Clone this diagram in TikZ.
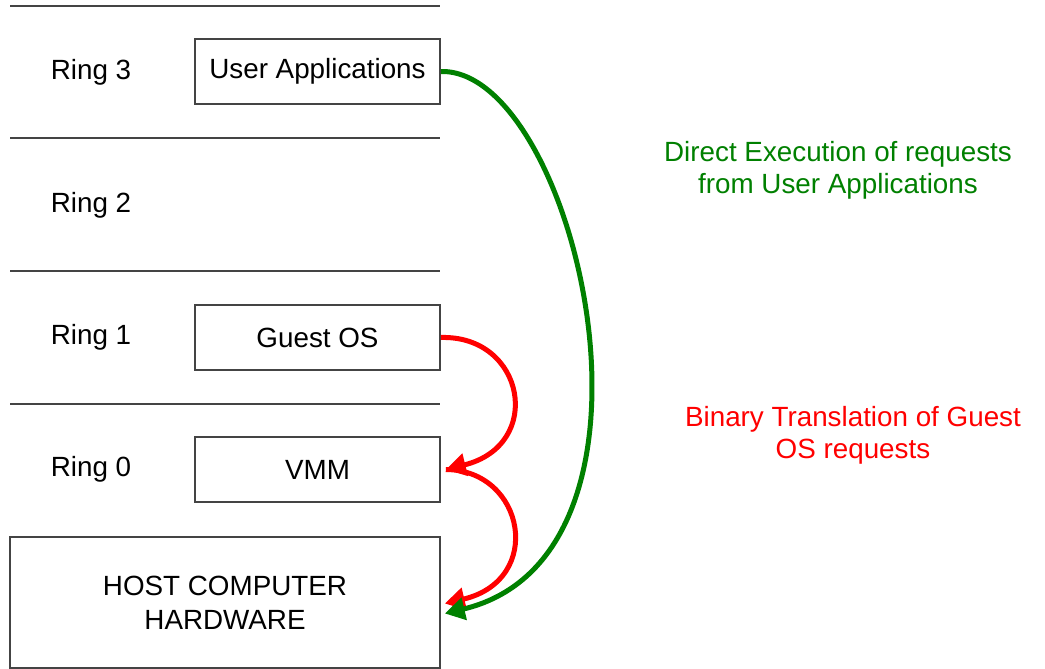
\documentclass[tikz,border=0pt]{standalone}
\usepackage{fontspec}
\setmainfont{Liberation Sans}
\usetikzlibrary{arrows.meta}
\definecolor{lgray}{HTML}{444444}
\definecolor{dgreen}{HTML}{008000}
\definecolor{bred}{HTML}{FF0000}
\begin{document}
\begin{tikzpicture}[x=1pt,y=-1pt,
  box/.style={draw=lgray,line width=1.6pt,rectangle,minimum width=245pt,minimum height=65pt,inner sep=0pt,font=\fontsize{27.8}{32}\selectfont},
  ringlbl/.style={font=\fontsize{27.8}{32}\selectfont,inner sep=0pt},
  sep/.style={draw=lgray,line width=1.6pt},
  garrow/.style={draw=dgreen,line width=5pt,-{Triangle[length=20pt,width=22pt]}},
  rarrow/.style={draw=bred,line width=5pt,-{Triangle[length=20pt,width=22pt]}},
  note/.style={font=\fontsize{27.8}{32}\selectfont,align=center,inner sep=0pt}]
\useasboundingbox (0,0) rectangle (1045,669);
\fill[white] (0,0) rectangle (1045,669);
% separator lines
\coordinate (l1a) at (10,6);   \coordinate (l1b) at (440,6);
\coordinate (l2a) at (10,138); \coordinate (l2b) at (440,138);
\coordinate (l3a) at (10,271); \coordinate (l3b) at (440,271);
\coordinate (l4a) at (10,404); \coordinate (l4b) at (440,404);
\draw[sep] (l1a) -- (l1b);
\draw[sep] (l2a) -- (l2b);
\draw[sep] (l3a) -- (l3b);
\draw[sep] (l4a) -- (l4b);
% ring labels
\node[ringlbl] (r3) at (91,72) {Ring 3};
\node[ringlbl] (r2) at (91,205) {Ring 2};
\node[ringlbl] (r1) at (91,337) {Ring 1};
\node[ringlbl] (r0) at (91,469) {Ring 0};
% boxes
\node[box] (ua) at (317.5,71.5) {User Applications};
\node[box] (gos) at (317.5,337.5) {Guest OS};
\node[box] (vmm) at (317.5,469.5) {VMM};
\node[box,minimum width=430pt,minimum height=131pt,align=center,font=\fontsize{27.8}{34}\selectfont] (host) at (225,602.5) {HOST COMPUTER\\HARDWARE};
% arrows
\coordinate (gend) at ([xshift=4pt,yshift=-11pt]host.east);
\coordinate (rend) at ([xshift=4pt,yshift=-1pt]host.east);
\coordinate (vin) at ([xshift=5pt]vmm.east);
\draw[rarrow] (gos.east) .. controls (525,335) and (545,445) .. (vin);
\draw[rarrow] (vin) .. controls (525,470) and (545,580) .. (rend);
\draw[garrow] (ua.east) .. controls (575,68) and (690,555) .. (gend);
% notes
\node[note,text=dgreen] (n1) at (838,170) {Direct Execution of requests\\from User Applications};
\node[note,text=bred] (n2) at (853,435) {Binary Translation of Guest\\OS requests};
\end{tikzpicture}
\end{document}
